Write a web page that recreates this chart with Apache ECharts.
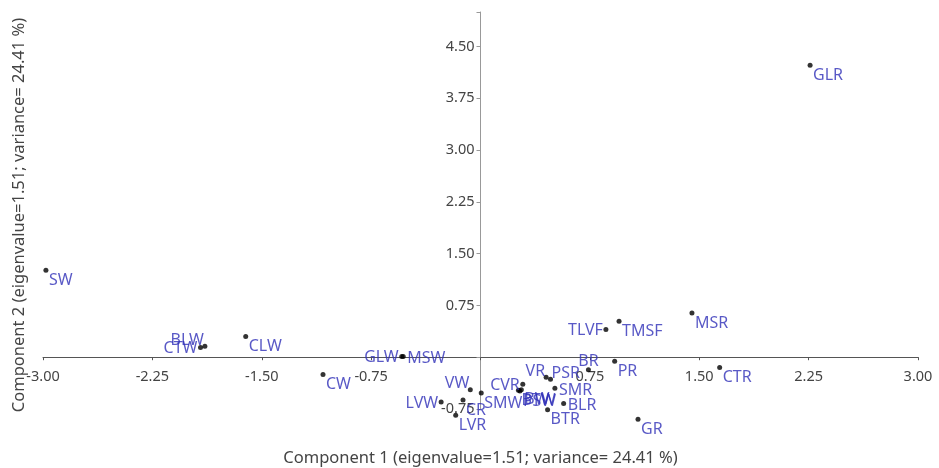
<!DOCTYPE html>
<html>
<head>
<meta charset="utf-8">
<script src="https://cdn.jsdelivr.net/npm/echarts@6/dist/echarts.min.js"></script>
<style>html,body{margin:0;padding:0;background:#fff}#c{width:939px;height:468px}</style>
</head>
<body>
<div id="c"></div>
<script>
// ---- data ----
const names = ['SW','BLW','CTW','CLW','CW','GLW','MSW','VW','SMW','LVW','LVR','CR','CVR','BTW','PSW','BW','VR','PSR','SMR','BLR','BTR','BR','PR','TLVF','TMSF','MSR','CTR','GR','GLR'];
const comp1 = [-2.98,-1.89,-1.92,-1.61,-1.08,-0.54,-0.53,-0.07,0.005,-0.27,-0.17,-0.12,0.29,0.26,0.27,0.28,0.45,0.48,0.51,0.57,0.46,0.74,0.92,0.86,0.95,1.45,1.64,1.08,2.26];
const comp2 = [1.26,0.16,0.14,0.30,-0.25,0.01,0.01,-0.47,-0.52,-0.65,-0.84,-0.62,-0.39,-0.48,-0.49,-0.47,-0.29,-0.32,-0.45,-0.67,-0.76,-0.18,-0.06,0.40,0.52,0.64,-0.15,-0.90,4.23];
const xTicks = [-3.00,-2.25,-1.50,-0.75,0.75,1.50,2.25,3.00];
const yTicks = [-0.75,0.75,1.50,2.25,3.00,3.75,4.50];
const xTitle = 'Component 1 (eigenvalue=1.51; variance= 24.41 %)';
const yTitle = 'Component 2 (eigenvalue=1.51; variance= 24.41 %)';

// ---- layout / style ----
const W = 939, H = 468;
const G = {left:43, right:21, top:12, bottom:59};
const X_MIN = -3, X_MAX = 3, Y_MIN = -0.75, Y_MAX = 5, STEP = 0.75;
const plotW = W - G.left - G.right, plotH = H - G.top - G.bottom;
// place the axes so that they cross at (0,0), like the reference
const zeroY = G.top + plotH * (Y_MAX - 0) / (Y_MAX - Y_MIN);
const zeroX = G.left + plotW * (0 - X_MIN) / (X_MAX - X_MIN);
const xAxisOffset = -((H - G.bottom) - zeroY);
const yAxisOffset = -(zeroX - G.left);

const labelPlace = {BLW:'tl',CTW:'l',GLW:'l',MSW:'r',VW:'tl',LVW:'l',CVR:'l',VR:'tl',PSR:'tr',SMR:'r',BLR:'r',BR:'t',TLVF:'l'};
const placeStyle = {
  br:{align:'left',verticalAlign:'top',offset:[3,2]},
  r:{align:'left',verticalAlign:'middle',offset:[4,2]},
  l:{align:'right',verticalAlign:'middle',offset:[-3,1]},
  tl:{align:'right',verticalAlign:'bottom',offset:[-1,2]},
  tr:{align:'left',verticalAlign:'bottom',offset:[1,2]},
  t:{align:'center',verticalAlign:'bottom',offset:[0,0]}
};

const pts = names.map((n,i)=>{
  const p = placeStyle[labelPlace[n] || 'br'];
  return {name:n, value:[comp1[i], comp2[i]],
    label:{show:true, position:'inside', formatter:n, align:p.align, verticalAlign:p.verticalAlign, offset:p.offset}};
});

const fmt = (ticks) => (v) => {
  const hit = ticks.find(t => Math.abs(t - v) < 1e-6);
  return hit === undefined ? '' : hit.toFixed(2);
};

const chart = echarts.init(document.getElementById('c'));
chart.setOption({
  animation:false,
  backgroundColor:'#fff',
  grid:Object.assign({containLabel:false, outerBoundsMode:'none'}, G),
  xAxis:{type:'value',min:X_MIN,max:X_MAX,interval:STEP,position:'bottom',offset:xAxisOffset,
    axisLine:{onZero:false,lineStyle:{color:'#555',width:1}},
    axisTick:{show:true,length:3,lineStyle:{color:'#555'}},
    axisLabel:{formatter:fmt(xTicks),color:'#444',fontSize:14.5,fontFamily:'Noto Sans',margin:12},
    splitLine:{show:false},
    name:xTitle,nameLocation:'middle',nameGap:93,
    nameTextStyle:{color:'#444',fontSize:16.5,fontFamily:'Noto Sans'}},
  yAxis:{type:'value',min:Y_MIN,max:Y_MAX,interval:STEP,position:'left',offset:yAxisOffset,
    axisLine:{onZero:false,lineStyle:{color:'#999',width:1}},
    axisTick:{show:true,length:4,lineStyle:{color:'#999'}},
    axisLabel:{formatter:fmt(yTicks),color:'#444',fontSize:14.5,fontFamily:'Noto Sans',margin:6},
    splitLine:{show:false}},
  graphic:[{type:'text',
    style:{text:yTitle,fill:'#444',font:'16.5px "Noto Sans"',textAlign:'center',textVerticalAlign:'middle'},
    rotation:Math.PI/2, x:19, y:215}],
  series:[{type:'scatter',clip:false,symbol:'circle',symbolSize:5,
    itemStyle:{color:'#000'},
    label:{color:'#3030b8',fontSize:16,fontFamily:'Noto Sans'},
    data:pts}]
});
</script>
</body>
</html>
